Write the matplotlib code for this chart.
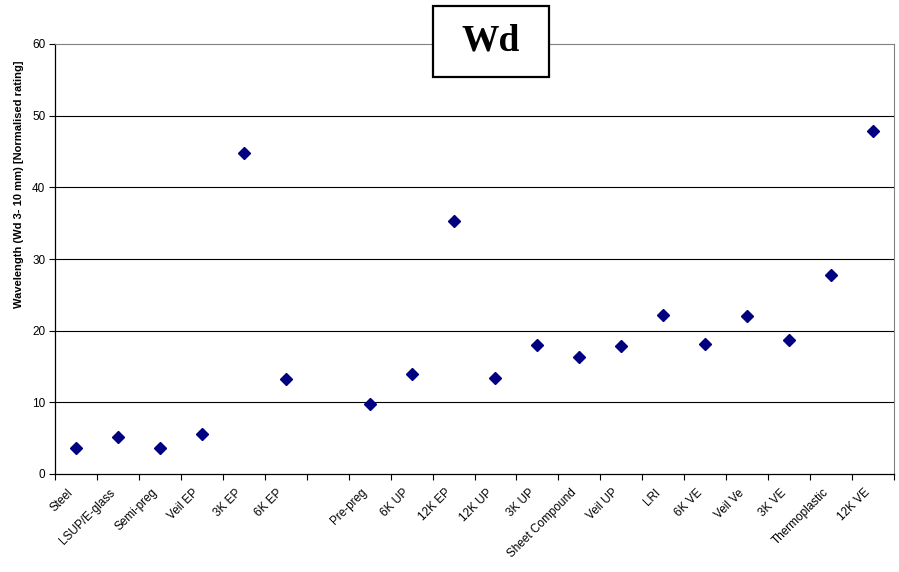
import numpy as np
import matplotlib.pyplot as plt
import matplotlib.transforms as mtransforms
from matplotlib.patches import Rectangle

categories = ['Steel', 'LSUP/E-glass', 'Semi-preg', 'Veil EP', '3K EP', '6K EP', '',
              'Pre-preg', '6K UP', '12K EP', '12K UP', '3K UP', 'Sheet Compound',
              'Veil UP', 'LRI', '6K VE', 'Veil Ve', '3K VE', 'Thermoplastic', '12K VE']
wd_values = [3.6, 5.2, 3.6, 5.6, 44.8, 13.3, None,
             9.7, 13.9, 35.3, 13.4, 18.0, 16.3,
             17.9, 22.2, 18.1, 22.1, 18.7, 27.8, 47.8]
y_ticks = [0, 10, 20, 30, 40, 50, 60]

plt.rcParams['font.family'] = ['Liberation Sans', 'DejaVu Sans']

fig = plt.figure(figsize=(8.99, 5.72), dpi=100)
ax = fig.add_axes([55 / 899, 98 / 572, 839 / 899, 430 / 572])

xs = [i for i, v in enumerate(wd_values) if v is not None]
ys = [v for v in wd_values if v is not None]
ax.plot(xs, ys, linestyle='none', marker='D', markersize=6.5,
        color='#000080', zorder=3)

ax.set_xlim(-0.5, len(categories) - 0.5)
ax.set_ylim(0, 60)
ax.set_yticks(y_ticks)
ax.tick_params(axis='y', labelsize=8.5, length=4, width=0.8, direction='out', pad=3)
for y in y_ticks[1:-1]:
    ax.axhline(y, color='black', linewidth=0.8, zorder=1)

# ticks on category boundaries, labels on the centres
ax.set_xticks(np.arange(-0.5, len(categories), 1.0))
ax.set_xticklabels([])
ax.tick_params(axis='x', which='major', length=4, width=0.8, direction='out')
ax.set_xticks(np.arange(len(categories)), minor=True)
ax.set_xticklabels(categories, minor=True, rotation=45, ha='right',
                   rotation_mode='anchor', fontsize=8.5)
ax.tick_params(axis='x', which='minor', length=0, pad=7)
shift = mtransforms.ScaledTranslation(-9 / 100, -3 / 100, fig.dpi_scale_trans)
for lbl in ax.get_xticklabels(minor=True):
    lbl.set_transform(lbl.get_transform() + shift)

ax.spines['left'].set_linewidth(0.9)
ax.spines['bottom'].set_linewidth(0.9)
ax.spines['top'].set_color('#808080')
ax.spines['right'].set_color('#808080')

ax.set_ylabel('Wavelength (Wd 3- 10 mm) [Normalised rating]', fontsize=8,
              fontweight='bold')
ax.yaxis.set_label_coords(-31 / 839, (474 - 184) / 430)

# title box
fig.patches.append(Rectangle((433 / 899, (572 - 77) / 572), 116 / 899, 71 / 572,
                             transform=fig.transFigure, facecolor='white',
                             edgecolor='black', linewidth=1.6, zorder=5))
fig.text(491 / 899, (572 - 41) / 572, 'Wd', fontsize=27, fontweight='bold',
         family='Liberation Serif', ha='center', va='center', zorder=6)

fig.savefig('out.png', dpi=100)
